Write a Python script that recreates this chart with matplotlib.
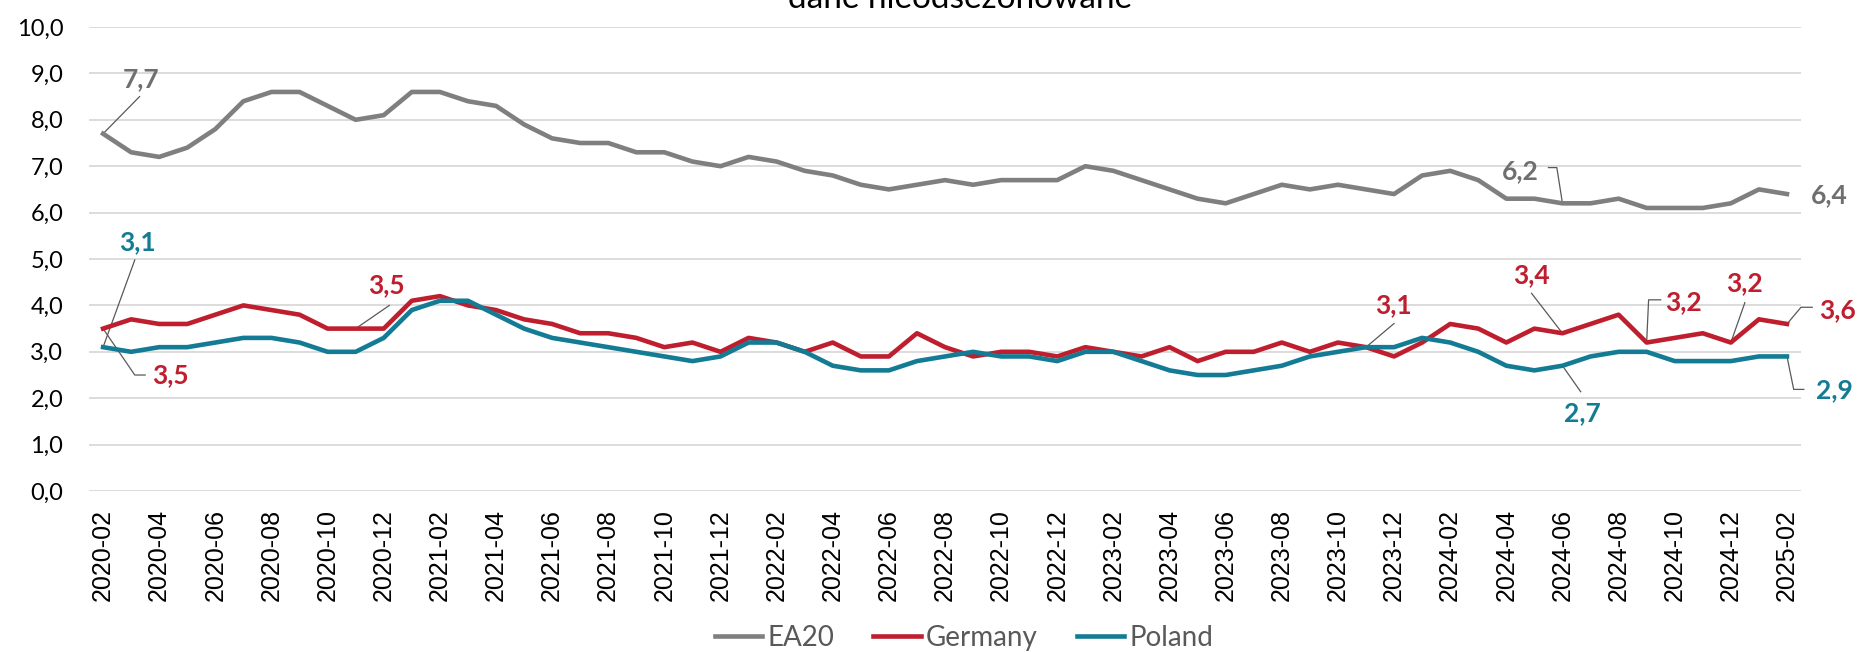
import numpy as np
import pandas as pd
import matplotlib.pyplot as plt

# miesiące 2020-02 .. 2025-02
months = pd.period_range('2020-02', '2025-02', freq='M').strftime('%Y-%m').tolist()

ea20 = [7.7, 7.3, 7.2, 7.4, 7.8, 8.4, 8.6, 8.6, 8.3, 8.0, 8.1,
        8.6, 8.6, 8.4, 8.3, 7.9, 7.6, 7.5, 7.5, 7.3, 7.3, 7.1, 7.0,
        7.2, 7.1, 6.9, 6.8, 6.6, 6.5, 6.6, 6.7, 6.6, 6.7, 6.7, 6.7,
        7.0, 6.9, 6.7, 6.5, 6.3, 6.2, 6.4, 6.6, 6.5, 6.6, 6.5, 6.4,
        6.8, 6.9, 6.7, 6.3, 6.3, 6.2, 6.2, 6.3, 6.1, 6.1, 6.1, 6.2,
        6.5, 6.4]
germany = [3.5, 3.7, 3.6, 3.6, 3.8, 4.0, 3.9, 3.8, 3.5, 3.5, 3.5,
           4.1, 4.2, 4.0, 3.9, 3.7, 3.6, 3.4, 3.4, 3.3, 3.1, 3.2, 3.0,
           3.3, 3.2, 3.0, 3.2, 2.9, 2.9, 3.4, 3.1, 2.9, 3.0, 3.0, 2.9,
           3.1, 3.0, 2.9, 3.1, 2.8, 3.0, 3.0, 3.2, 3.0, 3.2, 3.1, 2.9,
           3.2, 3.6, 3.5, 3.2, 3.5, 3.4, 3.6, 3.8, 3.2, 3.3, 3.4, 3.2,
           3.7, 3.6]
poland = [3.1, 3.0, 3.1, 3.1, 3.2, 3.3, 3.3, 3.2, 3.0, 3.0, 3.3,
          3.9, 4.1, 4.1, 3.8, 3.5, 3.3, 3.2, 3.1, 3.0, 2.9, 2.8, 2.9,
          3.2, 3.2, 3.0, 2.7, 2.6, 2.6, 2.8, 2.9, 3.0, 2.9, 2.9, 2.8,
          3.0, 3.0, 2.8, 2.6, 2.5, 2.5, 2.6, 2.7, 2.9, 3.0, 3.1, 3.1,
          3.3, 3.2, 3.0, 2.7, 2.6, 2.7, 2.9, 3.0, 3.0, 2.8, 2.8, 2.8,
          2.9, 2.9]

c_ea, c_de, c_pl = '#7f7f7f', '#be1e2d', '#137b94'
lab_ea = '#6f6f6f'

fig = plt.figure(figsize=(18.59, 6.52), dpi=100)
ax = fig.add_axes([0.0479, 0.2469, 0.9209, 0.7117])
x = np.arange(len(months))

l1, = ax.plot(x, ea20, color=c_ea, lw=3.3, label='EA20')
l2, = ax.plot(x, germany, color=c_de, lw=3.3, label='Germany')
l3, = ax.plot(x, poland, color=c_pl, lw=3.3, label='Poland')

ax.set_xlim(-0.5, len(months) - 0.5)
ax.set_ylim(0, 10)
ax.set_yticks(range(0, 11))
ax.set_yticklabels([f'{v:.1f}'.replace('.', ',') for v in range(0, 11)],
                   fontsize=17, family='Lato')
ax.set_xticks(x[::2])
ax.set_xticklabels(months[::2], rotation=90, fontsize=18, family='Liberation Sans')
ax.tick_params(axis='y', length=0, pad=18.5)
ax.tick_params(axis='x', length=0, pad=13)
ax.grid(axis='y', color='#d9d9d9', lw=1.3)
ax.set_axisbelow(True)
for s in ax.spines.values():
    s.set_visible(False)

# etykiety danych: (seria, indeks, x tekstu, y tekstu, tekst, kolor, łamana linii odniesienia)
labels = [
    (ea20, 0, 1.35, 8.88, '7,7', lab_ea, [(1.3, 8.5)]),
    (poland, 0, 1.22, 5.37, '3,1', c_pl, [(1.13, 4.98)]),
    (germany, 0, 2.4, 2.49, '3,5', c_de, [(1.13, 2.5), (1.5, 2.5)]),
    (germany, 9, 10.1, 4.44, '3,5', c_de, [(10.2, 4.0)]),
    (germany, 45, 45.96, 4.01, '3,1', c_de, [(46.0, 3.61)]),
    (germany, 52, 50.9, 4.66, '3,4', c_de, [(50.9, 4.26)]),
    (germany, 55, 56.3, 4.06, '3,2', c_de, [(55.07, 4.12), (55.5, 4.12)]),
    (germany, 58, 58.5, 4.48, '3,2', c_de, [(58.5, 4.06)]),
    (germany, 60, 61.8, 3.9, '3,6', c_de, [(60.5, 3.96), (60.9, 3.96)]),
    (poland, 52, 52.7, 1.68, '2,7', c_pl, [(52.65, 2.14)]),
    (poland, 60, 61.7, 2.18, '2,9', c_pl, [(60.24, 2.19), (60.6, 2.19)]),
    (ea20, 52, 50.5, 6.9, '6,2', lab_ea, [(51.8, 6.97), (51.5, 6.97)]),
    (ea20, 60, 61.5, 6.38, '6,4', lab_ea, []),
]
for ser, i, tx, ty, txt, col, path in labels:
    ax.text(tx, ty, txt, color=col, fontsize=19, fontweight='bold', family='Lato',
            ha='center', va='center', clip_on=False)
    if path:
        px = [i] + [p[0] for p in path]
        py = [ser[i]] + [p[1] for p in path]
        ax.plot(px, py, color='#595959', lw=0.9, clip_on=False, zorder=1)

fig.text(0.5164, 0.9877, 'dane nieodsezonowane', ha='center', va='baseline',
         fontsize=24, family='Lato')

fig.legend(handles=[l1, l2, l3], loc='center', bbox_to_anchor=(0.5186, 0.022), ncol=3,
           frameon=False, prop={'family': 'Lato', 'size': 20}, labelcolor='#595959',
           handlelength=1.7, handletextpad=0.2, columnspacing=1.4)

fig.savefig('out.png', dpi=100)
